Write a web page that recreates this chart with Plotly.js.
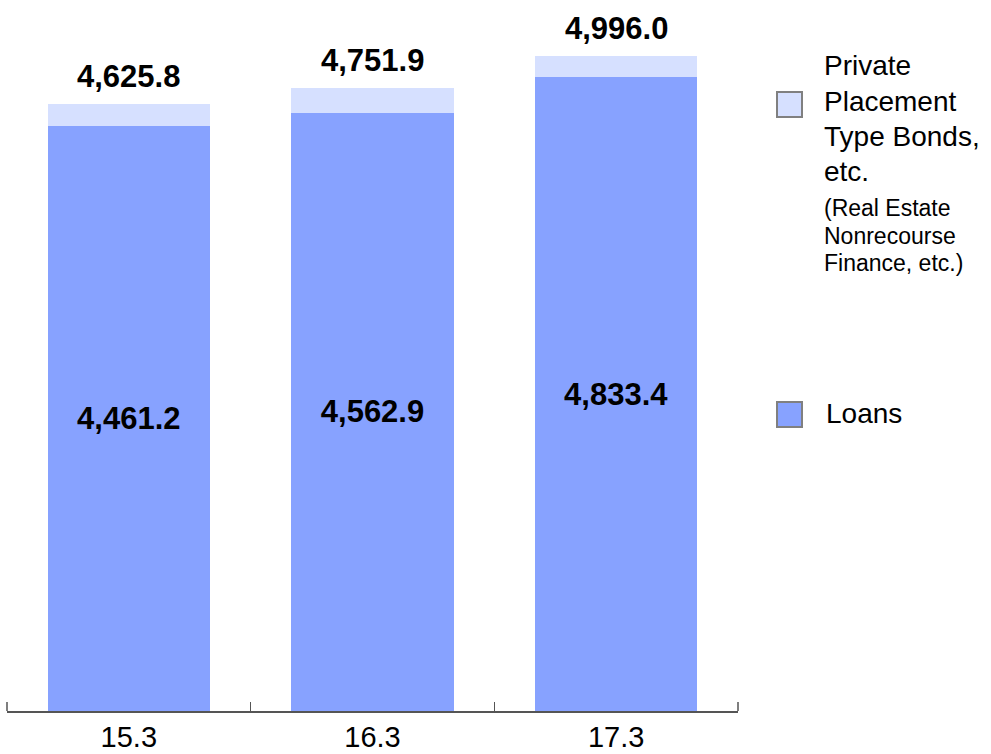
<!DOCTYPE html>
<html>
<head>
<meta charset="utf-8">
<script src="https://cdn.plot.ly/plotly-3.0.1.min.js"></script>
<style>
  html, body { margin: 0; padding: 0; background: #ffffff; }
  #chart { width: 991px; height: 754px; }
</style>
</head>
<body>
<div id="chart"></div>
<script>
// Fiscal year-end labels
const categories = ['15.3', '16.3', '17.3'];
// Loans balance
const loans = [4461.2, 4562.9, 4833.4];
// Total balance (loans + private placement type bonds, etc.)
const totals = [4625.8, 4751.9, 4996.0];
// Private placement type bonds, etc. = total minus loans
const privatePlacement = totals.map((t, i) => Math.round((t - loans[i]) * 10) / 10);

const legendMain = ['Private', 'Placement', 'Type Bonds,', 'etc.'];
const legendSub = ['(Real Estate', 'Nonrecourse', 'Finance, etc.)'];
const legendLoans = 'Loans';

const FONT = 'Arial, "Liberation Sans", sans-serif';
const LOAN_COLOR = '#87A2FF';
const PRIVATE_COLOR = '#D6E0FF';
const AXIS_COLOR = '#555555';

const W = 991, H = 754;
const M = { l: 7, r: 253, t: 29, b: 43 };
const plotW = W - M.l - M.r;
const plotH = H - M.t - M.b;
// pixel -> paper coordinate helpers for the hand-placed legend
const px = x => (x - M.l) / plotW;
const py = y => (H - M.b - y) / plotH;

const fmt = v => v.toLocaleString('en-US', { minimumFractionDigits: 1, maximumFractionDigits: 1 });

const traces = [
  {
    type: 'bar',
    name: 'Loans',
    x: categories,
    y: loans,
    width: 0.665,
    marker: { color: LOAN_COLOR, line: { width: 0 } },
    texttemplate: '%{y:,.1f}',
    textposition: 'inside',
    insidetextanchor: 'middle',
    constraintext: 'none',
    textfont: { family: FONT, size: 31, color: '#000000', weight: 'bold' },
    insidetextfont: { family: FONT, size: 31, color: '#000000', weight: 'bold' },
    hoverinfo: 'skip'
  },
  {
    type: 'bar',
    name: 'Private Placement Type Bonds, etc.',
    x: categories,
    y: privatePlacement,
    width: 0.665,
    marker: { color: PRIVATE_COLOR, line: { width: 0 } },
    textposition: 'none',
    hoverinfo: 'skip'
  }
];

const annotations = [];
// total labels above each stack (category axis positions by index)
categories.forEach((c, i) => {
  annotations.push({
    x: i, y: totals[i], xref: 'x', yref: 'y',
    text: fmt(totals[i]),
    showarrow: false,
    xanchor: 'center', yanchor: 'bottom', yshift: 8,
    font: { family: FONT, size: 31, color: '#000000', weight: 'bold' }
  });
});

// legend text
const mainY = [66, 101, 136, 171];
legendMain.forEach((t, i) => {
  annotations.push({
    x: px(822), y: py(mainY[i]), xref: 'paper', yref: 'paper',
    text: t, showarrow: false, xanchor: 'left', yanchor: 'middle',
    font: { family: FONT, size: 28, color: '#000000' }
  });
});
const subY = [208, 236, 263];
legendSub.forEach((t, i) => {
  annotations.push({
    x: px(822), y: py(subY[i]), xref: 'paper', yref: 'paper',
    text: t, showarrow: false, xanchor: 'left', yanchor: 'middle',
    font: { family: FONT, size: 23, color: '#000000' }
  });
});
annotations.push({
  x: px(824), y: py(414), xref: 'paper', yref: 'paper',
  text: legendLoans, showarrow: false, xanchor: 'left', yanchor: 'middle',
  font: { family: FONT, size: 28, color: '#000000' }
});

const tickLenPaper = 9 / plotH;
const shapes = [
  // legend swatches
  { type: 'rect', xref: 'paper', yref: 'paper',
    x0: px(777), x1: px(802), y0: py(117), y1: py(92),
    fillcolor: PRIVATE_COLOR, line: { color: '#808080', width: 2 } },
  { type: 'rect', xref: 'paper', yref: 'paper',
    x0: px(777), x1: px(802), y0: py(427), y1: py(402),
    fillcolor: LOAN_COLOR, line: { color: '#808080', width: 2 } },
  // end ticks of the category axis
  { type: 'line', xref: 'paper', yref: 'paper',
    x0: 0, x1: 0, y0: 0, y1: tickLenPaper,
    line: { color: AXIS_COLOR, width: 1.5 } },
  { type: 'line', xref: 'paper', yref: 'paper',
    x0: 1, x1: 1, y0: 0, y1: tickLenPaper,
    line: { color: AXIS_COLOR, width: 1.5 } }
];

const layout = {
  width: W, height: H,
  margin: M,
  paper_bgcolor: '#ffffff',
  plot_bgcolor: '#ffffff',
  barmode: 'stack',
  showlegend: false,
  font: { family: FONT, color: '#000000' },
  xaxis: {
    type: 'category',
    range: [-0.5, 2.5],
    ticks: 'inside',
    tickson: 'boundaries',
    ticklen: 9,
    tickwidth: 1.5,
    tickcolor: AXIS_COLOR,
    showline: true,
    linecolor: AXIS_COLOR,
    linewidth: 1.5,
    showgrid: false,
    zeroline: false,
    tickfont: { family: FONT, size: 29, color: '#000000' },
    fixedrange: true
  },
  yaxis: {
    range: [0, 5200],
    visible: false,
    fixedrange: true
  },
  annotations: annotations,
  shapes: shapes
};

Plotly.newPlot('chart', traces, layout, { displayModeBar: false, staticPlot: true });
</script>
</body>
</html>
